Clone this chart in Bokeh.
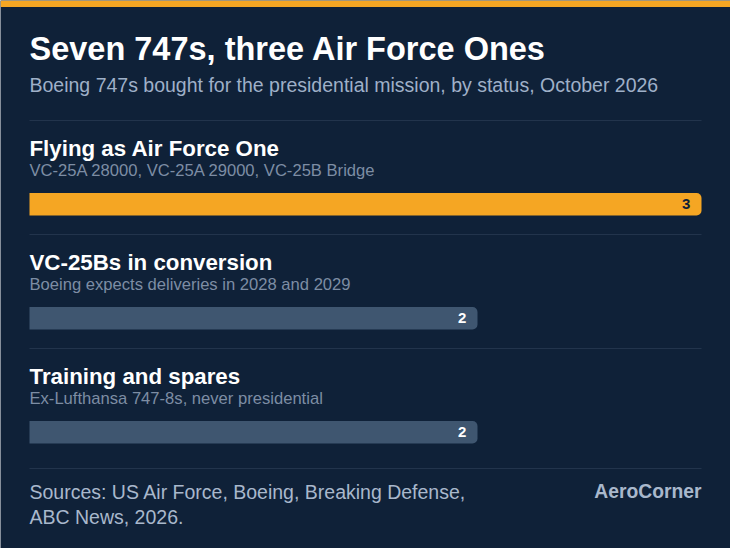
from bokeh.plotting import figure
from bokeh.models import Range1d, ColumnDataSource
from bokeh.core.properties import value
from bokeh.embed import file_html
from bokeh.resources import INLINE

title = "Seven 747s, three Air Force Ones"
subtitle = "Boeing 747s bought for the presidential mission, by status, October 2026"
categories = ["Flying as Air Force One", "VC-25Bs in conversion", "Training and spares"]
details = ["VC-25A 28000, VC-25A 29000, VC-25B Bridge",
           "Boeing expects deliveries in 2028 and 2029",
           "Ex-Lufthansa 747-8s, never presidential"]
counts = [3, 2, 2]
bar_colors = ["#f5a623", "#3f5670", "#3f5670"]
label_colors = ["#0f2138", "#ffffff", "#ffffff"]
sources_lines = ["Sources: US Air Force, Boeing, Breaking Defense,", "ABC News, 2026."]
brand = "AeroCorner"

W, H = 730, 548
BG = "#0f2138"
FONT = value("Liberation Sans")

# x in data units (aircraft count): 0 -> px 29, 3 -> px 701
px_per_unit = 224.0
x0 = -29 / px_per_unit
x1 = (W - 29) / px_per_unit
xmax = 3 * 1.0

p = figure(width=W, height=H, output_backend="svg", toolbar_location=None,
           x_range=Range1d(x0, x1), y_range=Range1d(H, 0),
           min_border=0, min_border_left=0, min_border_right=0,
           min_border_top=0, min_border_bottom=0)
p.background_fill_color = BG
p.border_fill_color = BG
p.outline_line_color = None
p.axis.visible = False
p.grid.visible = False

# top accent band
p.quad(left=[x0], right=[x1], top=[0], bottom=[6.5], fill_color="#f5a623", line_color=None)

# title & subtitle
p.text(x=[0], y=[48], text=[title], text_font=FONT, text_font_style="bold",
       text_font_size="32.5px", text_color="#ffffff", text_baseline="middle")
p.text(x=[0], y=[84], text=[subtitle], text_font=FONT,
       text_font_size="19.5px", text_color="#9fb0c8", text_baseline="middle")

# separators
sep_y = [120, 234, 348, 468]
p.segment(x0=[0] * 4, x1=[xmax] * 4, y0=sep_y, y1=sep_y, line_color="#22344c", line_width=1)

# rows
row_top = [120 + i * 114 for i in range(3)]
cat_y = [t + 28 for t in row_top]
det_y = [t + 50 for t in row_top]
bar_y = [t + 83.7 for t in row_top]

src = ColumnDataSource(dict(cat=categories, det=details, n=counts, color=bar_colors,
                            lcolor=label_colors, cy=cat_y, dy=det_y, by=bar_y,
                            lx=[c - 0.05 for c in counts]))

p.text(x=0, y="cy", text="cat", source=src, text_font=FONT, text_font_style="bold",
       text_font_size="22.3px", text_color="#ffffff", text_baseline="middle")
p.text(x=0, y="dy", text="det", source=src, text_font=FONT,
       text_font_size="16.6px", text_color="#7d8da4", text_baseline="middle")
p.hbar(y="by", left=0, right="n", height=22.5, source=src, fill_color="color",
       line_color=None, border_radius=(0, 5, 5, 0))
p.text(x="lx", y="by", text="n", source=src, text_font=FONT, text_font_style="bold",
       text_font_size="15px", text_color="lcolor", text_align="right", text_baseline="middle")

# footer
p.text(x=[0, 0], y=[491, 516], text=sources_lines, text_font=FONT,
       text_font_size="19.5px", text_color="#a9b8cc", text_baseline="middle")
p.text(x=[xmax], y=[491], text=[brand], text_font=FONT, text_font_style="bold",
       text_font_size="19.3px", text_color="#a9b8cc", text_baseline="middle", text_align="right")

open("out.html", "w").write(file_html(p, INLINE))
